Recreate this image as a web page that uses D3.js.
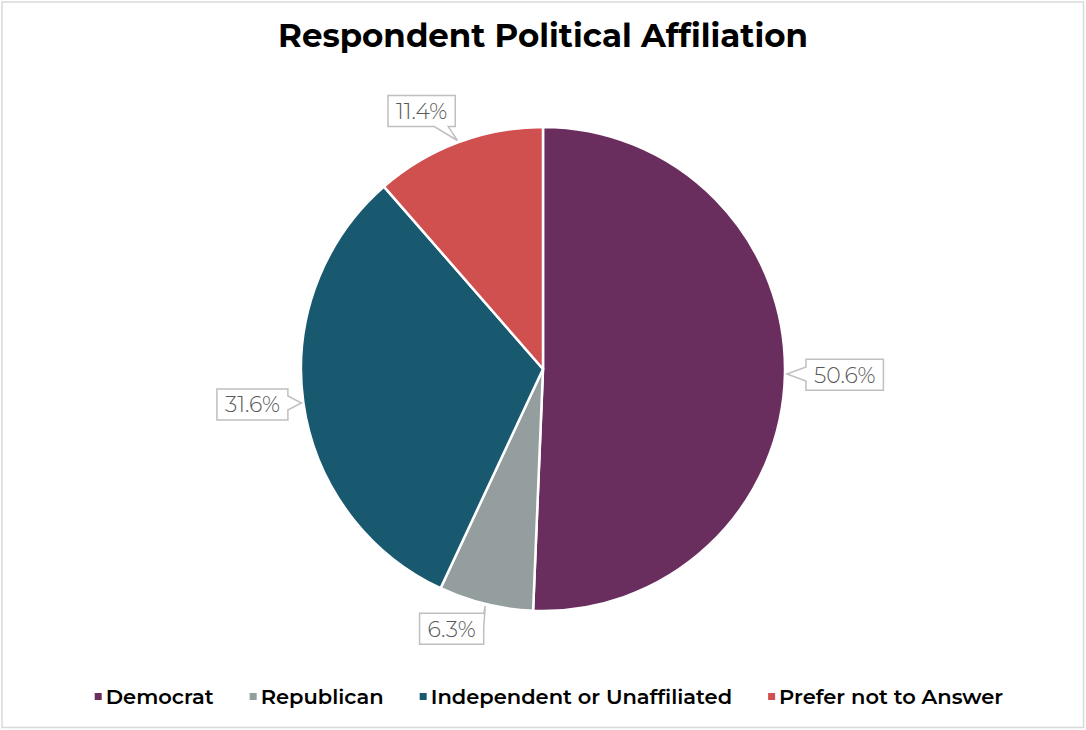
<!DOCTYPE html>
<html><head><meta charset="utf-8">
<script src="https://cdn.jsdelivr.net/npm/d3@7"></script>
<style>
html,body{margin:0;padding:0;background:#fff;}
svg{display:block;}
</style></head>
<body>
<svg id="chart" width="1086" height="730"></svg>
<script>
// ---- data ----
const categories = ["Democrat", "Republican", "Independent or Unaffiliated", "Prefer not to Answer"];
const values = [50.6, 6.3, 31.6, 11.4];
const labels = ["50.6%", "6.3%", "31.6%", "11.4%"];
const colors = ["#6A2E5E", "#959E9F", "#19596F", "#D04F4F"];
const title = "Respondent Political Affiliation";

// ---- layout ----
const W = 1086, H = 730;
const cx = 543, cy = 369, R = 242;
const labelNudge = [[2, 0], [-22, -9], [3, -3], [-18, 1]];

const svg = d3.select("#chart");
svg.append("rect").attr("x", 2).attr("y", 2).attr("width", W - 4.5).attr("height", H - 4.5)
  .attr("fill", "#fff").attr("stroke", "#d9d9d9").attr("stroke-width", 1.5);

// title
const t = svg.append("text").attr("x", cx).attr("y", 47).attr("text-anchor", "middle")
  .attr("font-family", "Montserrat, 'Open Sans', sans-serif").attr("font-weight", 700)
  .attr("font-size", 30).attr("fill", "#000").text(title);
const tw = t.node().getComputedTextLength();
t.attr("font-size", 30 * 530 / tw);

const pie = d3.pie().sort(null).value(d => d);
const arcs = pie(values);
const arc = d3.arc().innerRadius(0).outerRadius(R);

const g = svg.append("g").attr("transform", `translate(${cx},${cy})`);
g.selectAll("path.slice").data(arcs).join("path").attr("class", "slice")
  .attr("d", arc).attr("fill", (d, i) => colors[i])
  .attr("stroke", "#fff").attr("stroke-width", 2.5).attr("stroke-linejoin", "round");

// callout labels
const fontSize = 22;
arcs.forEach((a, i) => {
  const mid = (a.startAngle + a.endAngle) / 2;
  const dx = Math.sin(mid), dy = -Math.cos(mid);
  const tip = [dx * (R + 2), dy * (R + 2)];
  const gap = 19;
  const anchor = [dx * (R + gap), dy * (R + gap)];
  const txt = g.append("text").attr("font-family", "Montserrat, Lato, sans-serif")
    .attr("font-weight", 300).attr("font-size", fontSize).attr("fill", "#595959")
    .attr("text-anchor", "middle").text(labels[i]);
  const tl = txt.node().getComputedTextLength();
  const bw = tl + 16, bh = 31;
  const bc = [anchor[0] + dx * bw / 2 + labelNudge[i][0], anchor[1] + dy * bh / 2 + labelNudge[i][1]];
  const x0 = bc[0] - bw / 2, x1 = bc[0] + bw / 2, y0 = bc[1] - bh / 2, y1 = bc[1] + bh / 2;
  const ww = 14;
  let edge;
  if (tip[0] < x0) edge = "left";
  else if (tip[0] > x1) edge = "right";
  else if (tip[1] < y0) edge = "top";
  else edge = "bottom";
  if ((edge === "left" || edge === "right") && (tip[1] < y0 - 8 || tip[1] > y1 + 8)) {
    edge = tip[1] < y0 ? "top" : "bottom";
  }
  const clamp = (v, a, b) => Math.max(a, Math.min(b, v));
  const p = d3.path();
  p.moveTo(x0, y0);
  if (edge === "top") {
    const c = clamp(tip[0], x0 + ww, x1 - ww);
    p.lineTo(c - ww / 2, y0); p.lineTo(tip[0], tip[1]); p.lineTo(c + ww / 2, y0);
  }
  p.lineTo(x1, y0);
  if (edge === "right") {
    const c = clamp(tip[1], y0 + ww / 2 + 1, y1 - ww / 2 - 1);
    p.lineTo(x1, c - ww / 2); p.lineTo(tip[0], tip[1]); p.lineTo(x1, c + ww / 2);
  }
  p.lineTo(x1, y1);
  if (edge === "bottom") {
    const c = clamp(tip[0], x0 + ww, x1 - ww);
    p.lineTo(c + ww / 2, y1); p.lineTo(tip[0], tip[1]); p.lineTo(c - ww / 2, y1);
  }
  p.lineTo(x0, y1);
  if (edge === "left") {
    const c = clamp(tip[1], y0 + ww / 2 + 1, y1 - ww / 2 - 1);
    p.lineTo(x0, c + ww / 2); p.lineTo(tip[0], tip[1]); p.lineTo(x0, c - ww / 2);
  }
  p.closePath();
  g.insert("path", "text").attr("d", p.toString()).attr("fill", "#fff")
    .attr("stroke", "#bfbfbf").attr("stroke-width", 1.5);
  txt.attr("x", bc[0]).attr("y", bc[1] + fontSize * 0.36);
  txt.raise();
});

// legend
const legendY = 697;
const lg = svg.append("g");
const items = lg.selectAll("g").data(categories).join("g");
items.append("rect").attr("width", 7).attr("height", 7).attr("y", legendY - 4)
  .attr("fill", (d, i) => colors[i]);
items.append("text").attr("x", 11).attr("y", legendY + 7)
  .attr("font-family", "Montserrat, 'Open Sans', sans-serif").attr("font-weight", 600)
  .attr("font-size", 21).attr("fill", "#000").text(d => d);
let widths = [];
items.each(function () { widths.push(this.getBBox().width); });
const spacing = 36;
const total = d3.sum(widths) + spacing * (widths.length - 1);
let xpos = cx - total / 2 + 6;
items.each(function (d, i) {
  d3.select(this).attr("transform", `translate(${xpos},0)`);
  xpos += widths[i] + spacing;
});
</script>
</body></html>
